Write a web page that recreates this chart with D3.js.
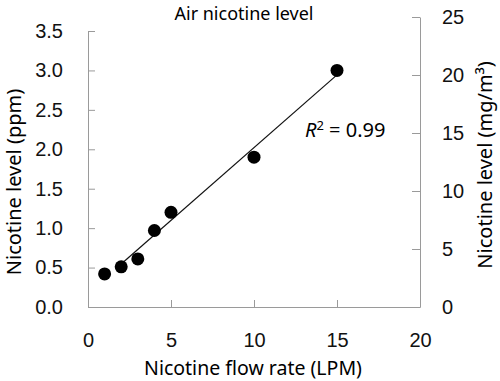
<!DOCTYPE html>
<html>
<head>
<meta charset="utf-8">
<script src="https://cdn.jsdelivr.net/npm/d3@7"></script>
<style>
  body { margin: 0; background: #fff; }
  svg { display: block; font-family: "Noto Sans", "Open Sans", sans-serif; }
  .axis path, .axis line { stroke: #9a9a9a; }
  .axis text { fill: #111; font-size: 20px; }
</style>
</head>
<body>
<div id="chart"></div>
<script>
// data
const flowRate = [1, 2, 3, 4, 5, 10, 15];           // LPM
const nicotinePpm = [0.42, 0.51, 0.61, 0.97, 1.2, 1.9, 3.0];
const xTicks = [0, 5, 10, 15, 20];
const leftTicks = [0, 0.5, 1.0, 1.5, 2.0, 2.5, 3.0, 3.5];
const rightTicks = [0, 5, 10, 15, 20, 25];
const trendRange = [2, 15];
const rSquared = "0.99";

const width = 500, height = 381;

const svg = d3.select("#chart").append("svg")
  .attr("width", width)
  .attr("height", height);

const x = d3.scaleLinear().domain([0, 20]).range([88, 420]);
const yLeft = d3.scaleLinear().domain([0, 3.5]).range([307, 31]);
const yRight = d3.scaleLinear().domain([0, 25]).range([307, 17]);

// axes, ticks point inside the plot
svg.append("g")
  .attr("class", "axis")
  .attr("transform", `translate(0,${yLeft(0)})`)
  .call(d3.axisBottom(x).tickValues(xTicks).tickSize(-7).tickSizeOuter(0).tickPadding(26));

svg.append("g")
  .attr("class", "axis")
  .attr("transform", `translate(${x(0)},0)`)
  .call(d3.axisLeft(yLeft).tickValues(leftTicks).tickFormat(d3.format(".1f")).tickSize(-7).tickSizeOuter(0).tickPadding(25));

svg.append("g")
  .attr("class", "axis")
  .attr("transform", `translate(${x(20)},0)`)
  .call(d3.axisRight(yRight).tickValues(rightTicks).tickSize(-8).tickSizeOuter(0).tickPadding(22));

// least squares fit for the trend line
const mx = d3.mean(flowRate), my = d3.mean(nicotinePpm);
const slope = d3.sum(flowRate, (v, i) => (v - mx) * (nicotinePpm[i] - my)) /
              d3.sum(flowRate, v => (v - mx) * (v - mx));
const intercept = my - slope * mx;

svg.append("line")
  .attr("x1", x(trendRange[0])).attr("y1", yLeft(intercept + slope * trendRange[0]))
  .attr("x2", x(trendRange[1])).attr("y2", yLeft(intercept + slope * trendRange[1]))
  .attr("stroke", "#111")
  .attr("stroke-width", 1.2);

svg.selectAll(".dot")
  .data(flowRate)
  .enter()
  .append("circle")
  .attr("class", "dot")
  .attr("cx", d => x(d))
  .attr("cy", (d, i) => yLeft(nicotinePpm[i]))
  .attr("r", 6.5)
  .attr("fill", "#000");

// texts
svg.append("text")
  .attr("x", 244).attr("y", 19.5)
  .attr("text-anchor", "middle")
  .style("font-size", "18px")
  .text("Air nicotine level");

const r2 = svg.append("text")
  .attr("x", 305).attr("y", 137)
  .style("font-size", "20px");
r2.append("tspan").style("font-style", "italic").text("R");
r2.append("tspan").attr("dy", -7).style("font-size", "13px").text("2");
r2.append("tspan").attr("dy", 7).text(" = " + rSquared);

svg.append("text")
  .attr("x", 253).attr("y", 375)
  .attr("text-anchor", "middle")
  .style("font-size", "19.5px")
  .text("Nicotine flow rate (LPM)");

svg.append("text")
  .attr("transform", "translate(21,182) rotate(-90)")
  .attr("text-anchor", "middle")
  .style("font-size", "20px")
  .text("Nicotine level (ppm)");

svg.append("text")
  .attr("transform", "translate(492,165) rotate(-90)")
  .attr("text-anchor", "middle")
  .style("font-size", "20px")
  .text("Nicotine level (mg/m³)");
</script>
</body>
</html>
